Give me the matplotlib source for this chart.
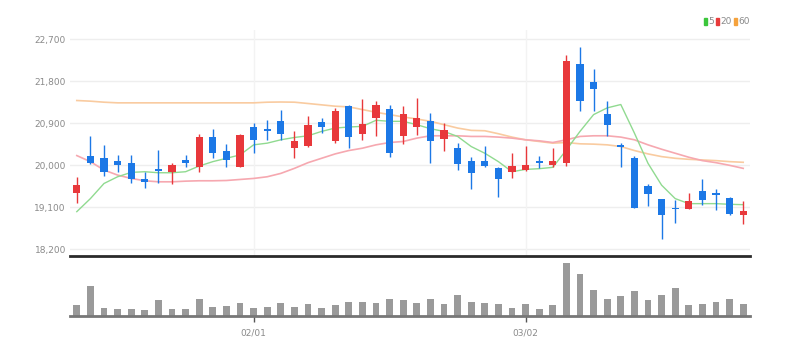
import matplotlib
matplotlib.use("Agg")
import matplotlib.pyplot as plt
from matplotlib.patches import Rectangle
import numpy as np

# ---------------- data ----------------
opens = [19402, 20202, 20151, 20094, 20043, 19690, 19906, 19856, 20108, 19950,
         20598, 20302, 19950, 20806, 20770, 20950, 20360, 20410, 20914, 20504,
         21260, 20670, 21008, 21210, 20612, 20806, 20950, 20554, 20360, 20086,
         20086, 19942, 19849, 19892, 20094, 20000, 20050, 22167, 21778, 21102,
         20425, 20144, 19554, 19266, 19086, 19064, 19438, 19410, 19294, 18920]
closes = [19568, 20050, 19856, 20000, 19698, 19640, 19870, 20007, 20050, 20598,
          20252, 20108, 20648, 20526, 20720, 20655, 20518, 20857, 20813, 21152,
          20598, 20886, 21296, 20252, 21094, 21008, 20504, 20756, 20014, 19820,
          19978, 19690, 19971, 20007, 20050, 20079, 22232, 21382, 21620, 20864,
          20382, 19086, 19388, 18920, 19050, 19222, 19244, 19352, 18942, 19014]
highs = [19748, 20612, 20418, 20216, 20216, 19856, 20324, 20036, 20216, 20670,
         20770, 20454, 20670, 20900, 20958, 21174, 20720, 21058, 21008, 21224,
         21296, 21418, 21382, 21296, 21260, 21440, 21116, 20900, 20468, 20180,
         20410, 19964, 20252, 20410, 20194, 20360, 22354, 22520, 22066, 21368,
         20468, 20194, 19590, 19280, 19258, 19402, 19690, 19482, 19316, 19230]
lows = [19186, 20022, 19762, 19856, 19604, 19510, 19618, 19590, 19950, 19856,
        20144, 19964, 19950, 20252, 20540, 20540, 20144, 20396, 20684, 20468,
        20360, 20526, 20626, 20166, 20454, 20648, 20050, 20310, 19892, 19496,
        19964, 19316, 19712, 19878, 19928, 19964, 19978, 21152, 21152, 20626,
        19950, 19086, 19122, 18416, 18754, 19050, 19136, 19028, 18920, 18740]
ma5 = [19000, 19280, 19604, 19748, 19842, 19856, 19834, 19834, 19856, 19978,
       20072, 20144, 20216, 20432, 20468, 20540, 20590, 20626, 20720, 20792,
       20814, 20828, 20958, 20936, 20936, 20864, 20778, 20720, 20612, 20396,
       20252, 20072, 19856, 19906, 19921, 19950, 20324, 20720, 21080, 21224,
       21296, 20684, 20036, 19568, 19280, 19172, 19172, 19172, 19158, 19150]
ma20 = [20202, 20072, 19892, 19784, 19712, 19662, 19640, 19640, 19654, 19662,
        19662, 19668, 19690, 19712, 19748, 19820, 19928, 20050, 20144, 20238,
        20310, 20360, 20432, 20482, 20504, 20576, 20626, 20626, 20626, 20612,
        20612, 20598, 20576, 20540, 20518, 20482, 20540, 20612, 20626, 20626,
        20598, 20540, 20432, 20338, 20252, 20166, 20094, 20050, 19993, 19928]
ma60 = [21382, 21368, 21346, 21332, 21332, 21332, 21332, 21332, 21332, 21332,
        21332, 21332, 21332, 21332, 21346, 21350, 21346, 21318, 21289, 21260,
        21246, 21188, 21130, 21080, 21030, 20986, 20936, 20864, 20792, 20742,
        20734, 20670, 20598, 20540, 20504, 20468, 20482, 20454, 20447, 20432,
        20396, 20310, 20238, 20180, 20144, 20122, 20108, 20094, 20072, 20058]
volumes = [32, 91, 25, 22, 22, 18, 47, 22, 22, 50,
           27, 30, 40, 25, 27, 40, 27, 36, 25, 32,
           41, 41, 40, 50, 47, 40, 52, 35, 62, 41,
           40, 37, 25, 37, 22, 32, 159, 125, 79, 52,
           60, 75, 47, 62, 84, 32, 36, 41, 50, 36]
yticks = [18200, 19100, 20000, 20900, 21800, 22700]
xtick_pos = [13, 33]
xtick_labels = ["02/01", "03/02"]
legend_labels = ["5", "20", "60"]

# ---------------- style ----------------
RED = "#e8383b"
BLUE = "#1c78e6"
C5 = "#90da90"
C20 = "#f6a8b0"
C60 = "#f9cba0"
GRID = "#eeeeee"
TXT = "#8a8a8a"
FONT = ["Liberation Sans Narrow", "DejaVu Sans"]

W, H = 797, 355
fig = plt.figure(figsize=(W / 100, H / 100), dpi=100)

def fx(px):
    return px / W

def fy(py):
    return 1 - py / H

L, R = 70, 750
ax = fig.add_axes([fx(L), fy(256), fx(R - L), fy(30) - fy(256)])
axv = fig.add_axes([fx(L), fy(316), fx(R - L), fy(260) - fy(316)])

n = len(opens)
x = np.arange(n)

# price panel
for t in yticks:
    ax.axhline(t, color=GRID, lw=1, zorder=0)
for p in xtick_pos:
    ax.axvline(p, color="#f3f3f3", lw=1, zorder=0)

ax.plot(x, ma60, color=C60, lw=1.2, zorder=2)
ax.plot(x, ma20, color=C20, lw=1.2, zorder=2)
ax.plot(x, ma5, color=C5, lw=1.0, zorder=2)

for i in range(n):
    o, c = opens[i], closes[i]
    col = RED if c >= o else BLUE
    ax.vlines(i, lows[i], highs[i], color=col, lw=1, zorder=3)
    bottom = min(o, c)
    h = max(abs(c - o), 25)
    ax.bar(i, h, bottom=bottom, width=0.52, color=col, edgecolor="none", zorder=4)

ax.set_xlim(-0.5, n - 0.5)
ax.set_ylim(18050, 22893)
ax.set_yticks(yticks)
ax.set_yticklabels([f"{t:,}" for t in yticks], fontfamily=FONT, fontsize=6.5, color=TXT)
ax.tick_params(axis="y", length=0, pad=3)
ax.set_xticks([])
for s in ["top", "right", "left"]:
    ax.spines[s].set_visible(False)
ax.spines["bottom"].set_color("#2a2a2a")
ax.spines["bottom"].set_linewidth(2)

# volume panel
axv.bar(x, volumes, width=0.5, color="#9a9a9a", edgecolor="none")
axv.set_xlim(-0.5, n - 0.5)
axv.set_ylim(0, 168)
axv.set_yticks([])
axv.set_xticks(xtick_pos)
axv.set_xticklabels(xtick_labels, fontfamily=FONT, fontsize=6.5, color=TXT)
axv.tick_params(axis="x", length=4, width=1, color="#555555", pad=5)
for s in ["top", "right", "left"]:
    axv.spines[s].set_visible(False)
axv.spines["bottom"].set_color("#777777")
axv.spines["bottom"].set_linewidth(2)

# legend (top right)
leg_colors = ["#3cc63c", "#e83a3a", "#f5a23c"]
leg_x = [704, 716, 734]
for lx, lab, col in zip(leg_x, legend_labels, leg_colors):
    fig.patches.append(Rectangle((fx(lx), fy(25)), fx(3), fy(18) - fy(25),
                                 transform=fig.transFigure, color=col))
    fig.text(fx(lx + 4), fy(21.5), lab, fontsize=6.5, color=TXT,
             fontfamily=FONT, va="center", ha="left")

fig.savefig("out.png", dpi=100, facecolor="white")
